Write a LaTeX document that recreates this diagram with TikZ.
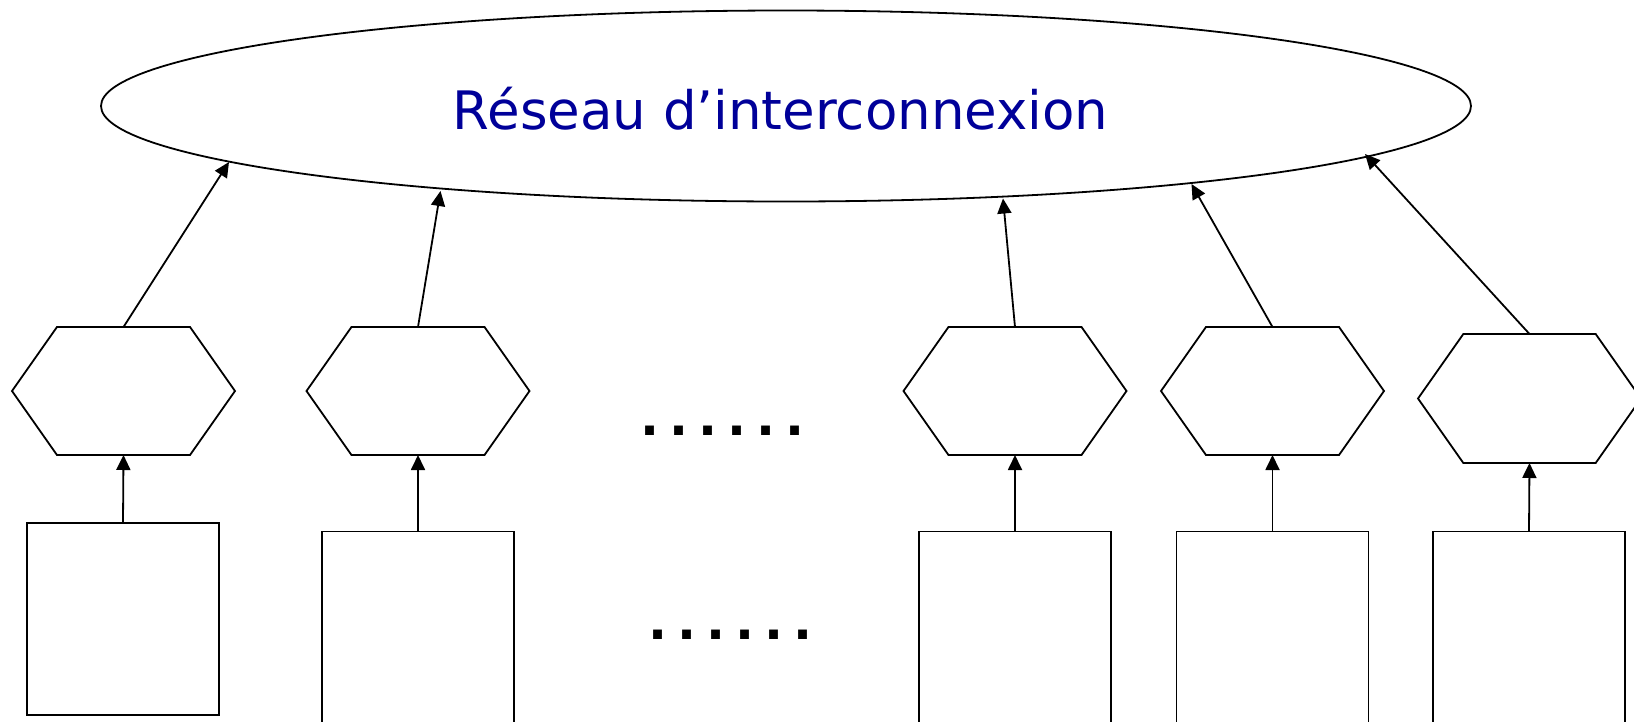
\documentclass[tikz,border=0pt]{standalone}
\usepackage{fontspec}
\setmainfont{DejaVu Sans}
\newfontfamily\dotsfont{DejaVu Sans}[LetterSpace=20]
\usetikzlibrary{shapes.geometric,shapes.symbols,arrows.meta}
\definecolor{netblue}{RGB}{0,0,153}
\begin{document}
\begin{tikzpicture}[x=1pt,y=-1pt,line width=1.8pt,
  hexbox/.style={draw,shape=signal,signal to=west and east,
    signal pointer angle=109.8,minimum width=223pt,minimum height=128pt,
    inner sep=0pt,outer sep=0pt},
  cpu/.style={draw,rectangle,minimum width=192pt,minimum height=192pt,
    inner sep=0pt,outer sep=0pt},
  link/.style={-{Triangle[length=15pt,width=14pt]}},
  dotrow/.style={anchor=base west,inner sep=0pt,
    font=\dotsfont\bfseries\fontsize{50}{60}\selectfont}]
\useasboundingbox (0,0) rectangle (1634,721);
\clip (0,0) rectangle (1634,721);

% interconnection network
\node[draw,ellipse,minimum width=1370pt,minimum height=191pt,inner sep=0pt]
  (net) at (786,106) {};
\node[anchor=base west,inner sep=0pt,text=netblue,
  font=\fontsize{53}{60}\selectfont] (title) at (452,129.3)
  {Réseau d’interconnexion};

% network interfaces
\node[hexbox] (h1) at (123.5,391) {};
\node[hexbox] (h2) at (418,391) {};
\node[hexbox] (h3) at (1015,391) {};
\node[hexbox] (h4) at (1272.5,391) {};
\node[hexbox,minimum height=129pt] (h5) at (1529.5,398.5) {};

% processing nodes
\node[cpu] (c1) at (123,619) {};
\node[cpu] (c2) at (418,627.5) {};
\node[cpu] (c3) at (1015,627.5) {};
\node[cpu] (c4) at (1272.5,627.5) {};
\node[cpu] (c5) at (1529,627.5) {};

\node[dotrow] (dotsup) at (640,435) {......};
\node[dotrow] (dotsdown) at (648,639) {......};

% nodes to interfaces
\foreach \i in {1,...,5} \draw[link] (c\i.north) -- (h\i.south);

% interfaces to network
\coordinate (t1) at (229,162);
\coordinate (t2) at (440.5,191);
\coordinate (t3) at (1003,198.5);
\coordinate (t4) at (1191.5,184);
\coordinate (t5) at (1365,154);
\foreach \i in {1,...,5} \draw[link] (h\i.north) -- (t\i);
\end{tikzpicture}
\end{document}
